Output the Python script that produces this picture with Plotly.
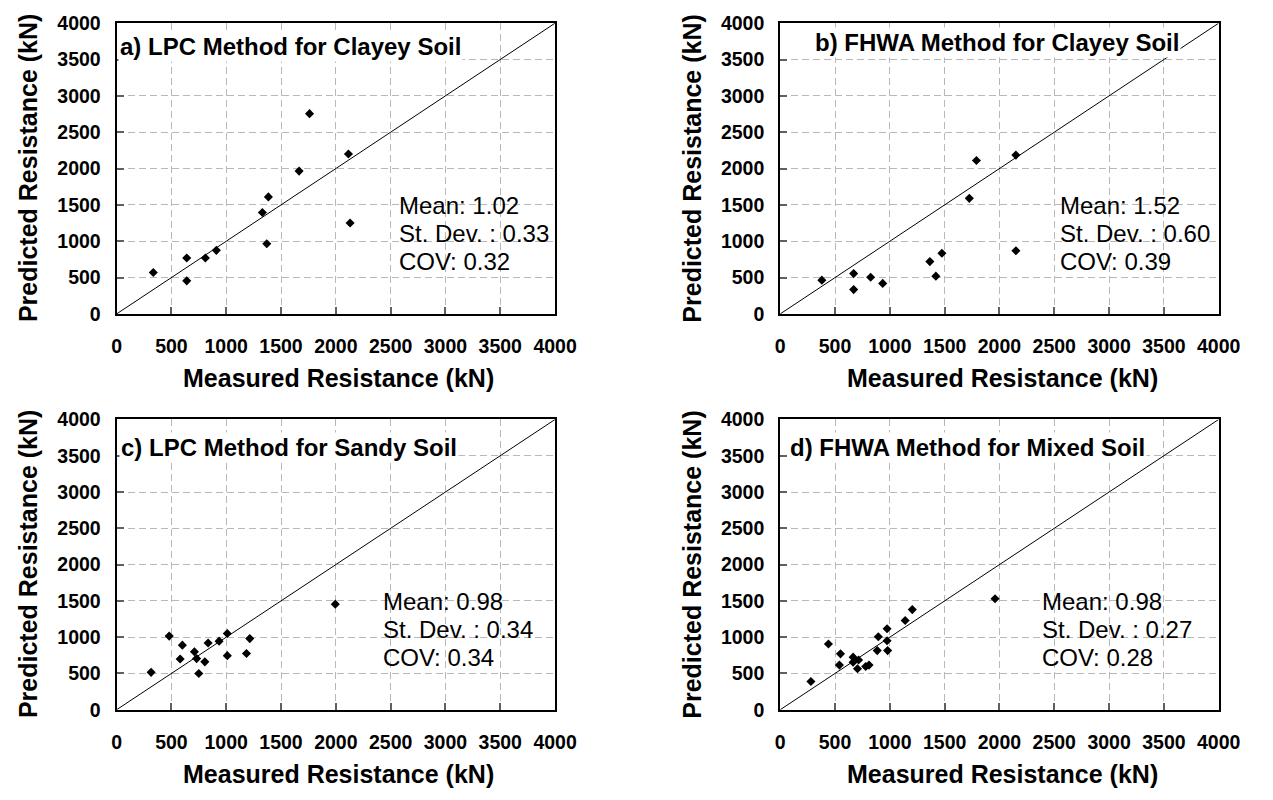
import plotly.graph_objects as go

# ---------------- data ----------------
a_x = [335, 640, 640, 810, 910, 1330, 1385, 1370, 1665, 1760, 2115, 2130]
a_y = [570, 770, 455, 770, 875, 1395, 1610, 965, 1965, 2755, 2200, 1250]
b_x = [380, 670, 670, 825, 935, 1365, 1420, 1475, 1725, 1790, 2150, 2150]
b_y = [465, 555, 335, 505, 420, 720, 520, 835, 1590, 2110, 2185, 870]
c_x = [315, 480, 600, 580, 710, 730, 750, 805, 835, 935, 1010, 1010, 1185, 1215, 1995]
c_y = [515, 1015, 890, 700, 800, 705, 500, 660, 920, 945, 1050, 745, 775, 980, 1455]
d_x = [280, 440, 550, 540, 665, 665, 705, 715, 780, 810, 885, 895, 975, 975, 980, 1140, 1205, 1960]
d_y = [390, 905, 770, 615, 725, 655, 565, 685, 595, 615, 815, 1005, 950, 1115, 815, 1230, 1380, 1530]
diag = [0, 4000]

titles = ["a) LPC Method for Clayey Soil", "b) FHWA Method for Clayey Soil",
          "c) LPC Method for Sandy Soil", "d) FHWA Method for Mixed Soil"]
means = ["1.02", "1.52", "0.98", "0.98"]
stdevs = ["0.33", "0.60", "0.34", "0.27"]
covs = ["0.32", "0.39", "0.34", "0.28"]
tick_vals = [0, 500, 1000, 1500, 2000, 2500, 3000, 3500, 4000]
x_title = "Measured Resistance (kN)"
y_title = "Predicted Resistance (kN)"

# ---------------- layout helpers ----------------
W, H = 1273, 800
FONT = "Liberation Sans, Arial, sans-serif"

def px(x):
    return x / W

def py(y):
    return 1 - y / H

# frame pixel boxes (left, right, top, bottom)
frames = [(114, 562, 12.5, 311.5), (792, 1240, 12.5, 311.5),
          (114, 562, 420, 718.5), (792, 1240, 420, 718.5)]
title_pos = [(115, 37), (825, 32), (116, 449), (800, 449)]
stat_pos = [(401, 229), (1076, 229), (384, 636), (1057, 636)]
LINE = 29

fig = go.Figure()
series = [(a_x, a_y), (b_x, b_y), (c_x, c_y), (d_x, d_y)]
annotations = []
for i, ((xs, ys), (l, r, t, b)) in enumerate(zip(series, frames)):
    k = "" if i == 0 else str(i + 1)
    xa, ya = "x" + k, "y" + k
    fig.add_trace(go.Scatter(x=diag, y=diag, mode="lines",
                             line=dict(color="black", width=1),
                             xaxis=xa, yaxis=ya, showlegend=False, hoverinfo="skip"))
    fig.add_trace(go.Scatter(x=xs, y=ys, mode="markers",
                             marker=dict(symbol="diamond", size=7, color="black"),
                             xaxis=xa, yaxis=ya, showlegend=False))
    common = dict(range=[0, 4000], tickvals=tick_vals, showgrid=True,
                  gridcolor="#b8b8b8", gridwidth=1, griddash="7px,4px",
                  showline=True, linecolor="black", linewidth=2, mirror=True,
                  ticks="inside", ticklen=7, tickwidth=2, tickcolor="#606060",
                  zeroline=False,
                  tickfont=dict(family=FONT, size=19.5, color="black", weight="bold"))
    fig.layout["xaxis" + k] = dict(common, domain=[px(l), px(r)], anchor=ya,
                                   ticklabelstandoff=14)
    fig.layout["yaxis" + k] = dict(common, domain=[py(b), py(t)], anchor=xa,
                                   ticklabelstandoff=10)
    # panel title
    tx, ty = title_pos[i]
    annotations.append(dict(text=titles[i], xref="paper", yref="paper",
                            x=px(tx), y=py(ty), xanchor="left", yanchor="middle",
                            showarrow=False, bgcolor="white", borderpad=1,
                            font=dict(family=FONT, size=24, color="black", weight="bold")))
    # stats, one line each
    sx, sy = stat_pos[i]
    lines = [f"Mean: {means[i]}", f"St. Dev. : {stdevs[i]}", f"COV: {covs[i]}"]
    for j, txt in enumerate(lines):
        annotations.append(dict(text=txt, xref="paper", yref="paper",
                                x=px(sx), y=py(sy + (j - 1) * LINE),
                                xanchor="left", yanchor="middle", align="left",
                                showarrow=False,
                                font=dict(family=FONT, size=24, color="black")))
    # axis titles
    annotations.append(dict(text=x_title, xref="paper", yref="paper",
                            x=px((l + r) / 2 + 3), y=py(b + 66), xanchor="center",
                            yanchor="middle", showarrow=False,
                            font=dict(family=FONT, size=25, color="black", weight="bold")))
    annotations.append(dict(text=y_title, xref="paper", yref="paper",
                            x=px(l - 91), y=py((t + b) / 2), xanchor="center",
                            yanchor="middle", textangle=-90, showarrow=False,
                            font=dict(family=FONT, size=25, color="black", weight="bold")))

fig.update_layout(width=W, height=H, margin=dict(l=0, r=0, t=0, b=0),
                  paper_bgcolor="white", plot_bgcolor="white",
                  annotations=annotations, showlegend=False)

fig.write_html("out.html", config={"displayModeBar": False},
               post_script="document.body.style.margin='0';")
